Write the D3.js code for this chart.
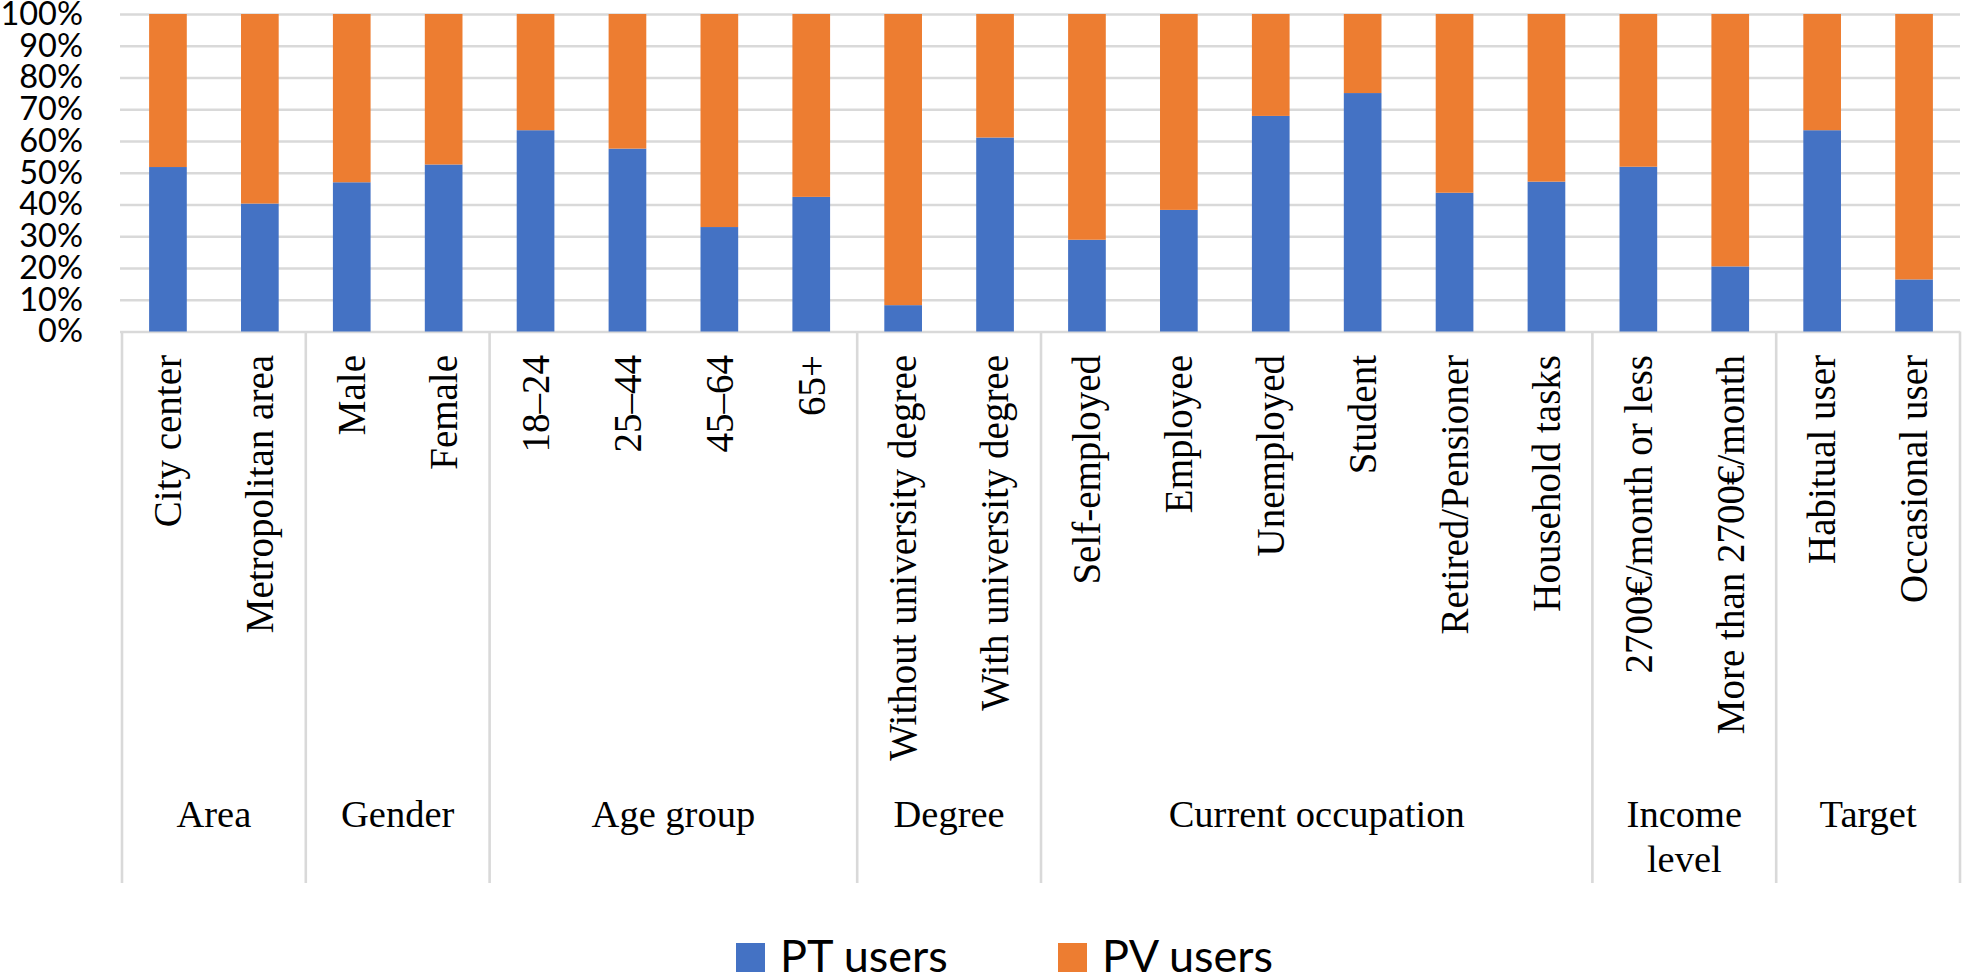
<!DOCTYPE html>
<html>
<head>
<meta charset="utf-8">
<script src="https://cdn.jsdelivr.net/npm/d3@7"></script>
<style>
  html, body { margin: 0; padding: 0; background: #ffffff; }
  svg { display: block; }
</style>
</head>
<body>
<svg id="chart" width="1962" height="973"></svg>
<script>
// ---- Data ----
const categories = [
  "City center", "Metropolitan area",
  "Male", "Female",
  "18\u201324", "25\u201344", "45\u201364", "65+",
  "Without university degree", "With university degree",
  "Self-employed", "Employee", "Unemployed", "Student", "Retired/Pensioner", "Household tasks",
  "2700\u20ac/month or less", "More than 2700\u20ac/month",
  "Habitual user", "Occasional user"
];
const groupNames = [["Area"], ["Gender"], ["Age group"], ["Degree"], ["Current occupation"], ["Income", "level"], ["Target"]];
const groupSizes = [2, 2, 4, 2, 6, 2, 2];
const ptUsers = [51.8, 40.3, 47.0, 52.6, 63.4, 57.6, 32.9, 42.4, 8.3, 61.1, 28.9, 38.3, 67.9, 75.1, 43.7, 47.2, 51.9, 20.5, 63.4, 16.4];
const pvUsers = [48.2, 59.7, 53.0, 47.4, 36.6, 42.4, 67.1, 57.6, 91.7, 38.9, 71.1, 61.7, 32.1, 24.9, 56.3, 52.8, 48.1, 79.5, 36.6, 83.6];
const seriesNames = ["PT users", "PV users"];
const yTicks = [0, 10, 20, 30, 40, 50, 60, 70, 80, 90, 100];

// ---- Layout ----
const colors = { "PT users": "#4472C4", "PV users": "#ED7D31" };
const gridColor = "#D9D9D9";
const plotLeft = 122, plotRight = 1960, plotTop = 14, plotBottom = 331.5;
const dividerBottom = 883;

const svg = d3.select("#chart");

const table = categories.map((c, i) => ({ cat: c, "PT users": ptUsers[i], "PV users": pvUsers[i] }));
const stacked = d3.stack().keys(seriesNames)(table);

const x = d3.scaleBand().domain(categories).range([plotLeft, plotRight])
  .paddingInner(0.59).paddingOuter(0.295);
const y = d3.scaleLinear().domain([0, 100]).range([plotBottom, plotTop]);
const step = x.step();
const leftEdge = c => x(c) - (step - x.bandwidth()) / 2;

// Gridlines
svg.append("g")
  .attr("transform", `translate(${plotLeft - 2},0)`)
  .call(d3.axisLeft(y).tickValues(yTicks).tickSize(-(plotRight - plotLeft + 2)).tickFormat(""))
  .call(g => g.select(".domain").remove())
  .call(g => g.selectAll(".tick line").attr("stroke", gridColor).attr("stroke-width", 2.6));

// Y-axis labels
svg.append("g")
  .attr("transform", `translate(${plotLeft},0)`)
  .call(d3.axisLeft(y).tickValues(yTicks).tickSize(0).tickPadding(39).tickFormat(d => d + "%"))
  .call(g => g.select(".domain").remove())
  .call(g => g.selectAll(".tick text")
    .attr("font-family", "Lato, 'Open Sans', sans-serif")
    .attr("font-size", 32.5)
    .attr("fill", "#000"));

// Bars
svg.append("g").selectAll("g")
  .data(stacked)
  .join("g")
  .attr("fill", d => colors[d.key])
  .selectAll("rect")
  .data(d => d)
  .join("rect")
  .attr("x", d => x(d.data.cat))
  .attr("width", x.bandwidth())
  .attr("y", d => y(d[1]))
  .attr("height", d => y(d[0]) - y(d[1]));

// Group dividers
let starts = [];
let acc = 0;
groupSizes.forEach(n => { starts.push(acc); acc += n; });
const dividerXs = starts.map(s => leftEdge(categories[s])).concat([plotRight]);
svg.append("g").selectAll("line")
  .data(dividerXs)
  .join("line")
  .attr("x1", d => d).attr("x2", d => d)
  .attr("y1", plotBottom).attr("y2", dividerBottom)
  .attr("stroke", gridColor).attr("stroke-width", 2.6);

// Category labels (rotated)
svg.append("g").selectAll("text")
  .data(categories)
  .join("text")
  .attr("transform", d => `translate(${x(d) + x.bandwidth() / 2},355) rotate(-90)`)
  .attr("text-anchor", "end")
  .attr("dy", "0.34em")
  .attr("font-family", "'Liberation Serif', 'Times New Roman', serif")
  .attr("font-size", 39)
  .attr("fill", "#000")
  .text(d => d);

// Group labels
const gl = svg.append("g");
groupNames.forEach((lines, gi) => {
  const x0 = dividerXs[gi], x1 = dividerXs[gi + 1];
  const t = gl.append("text")
    .attr("x", (x0 + x1) / 2)
    .attr("y", 827)
    .attr("text-anchor", "middle")
    .attr("font-family", "'Liberation Serif', 'Times New Roman', serif")
    .attr("font-size", 38.5)
    .attr("fill", "#000");
  lines.forEach((ln, li) => {
    t.append("tspan").attr("x", (x0 + x1) / 2).attr("dy", li === 0 ? 0 : 45).text(ln);
  });
});

// Legend
const legendX = [736, 1058];
const legend = svg.append("g").selectAll("g")
  .data(seriesNames)
  .join("g")
  .attr("transform", (d, i) => `translate(${legendX[i]},0)`);
legend.append("rect")
  .attr("x", 0).attr("y", 943).attr("width", 29).attr("height", 29)
  .attr("fill", d => colors[d]);
legend.append("text")
  .attr("x", 44).attr("y", 972)
  .attr("font-family", "Lato, 'Open Sans', sans-serif")
  .attr("font-size", 45)
  .attr("fill", "#000")
  .text(d => d);
</script>
</body>
</html>
